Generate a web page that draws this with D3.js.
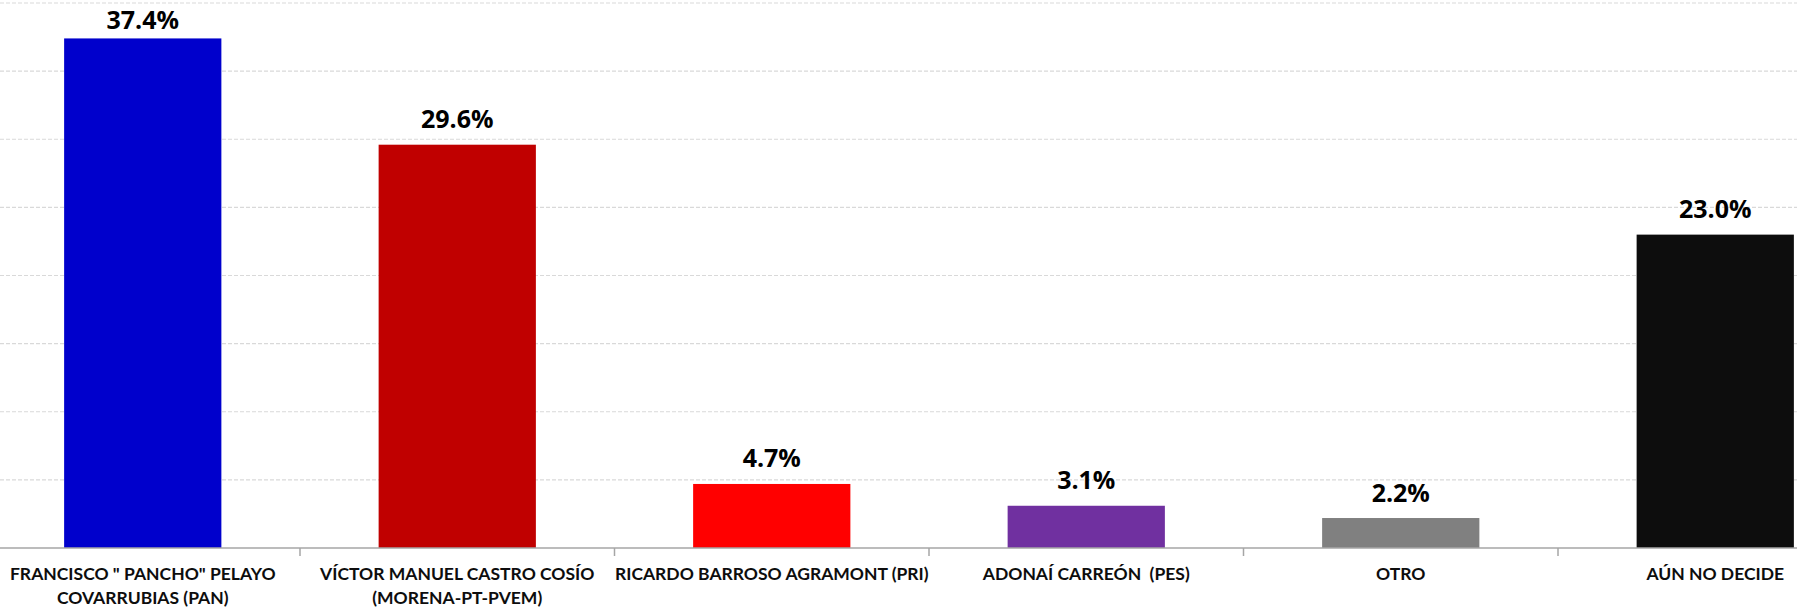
<html>
<head>
<meta charset="utf-8">
<script src="https://d3js.org/d3.v7.min.js"></script>
<style>
  body { margin: 0; background: #fff; }
  text { font-family: Lato, "Open Sans", sans-serif; font-weight: bold; }
  .value { font-family: "Open Sans", Lato, sans-serif; }
</style>
</head>
<body>
<script>
// data
var categories = [
  "FRANCISCO \" PANCHO\" PELAYO\nCOVARRUBIAS (PAN)",
  "VÍCTOR MANUEL CASTRO COSÍO\n(MORENA-PT-PVEM)",
  "RICARDO BARROSO AGRAMONT (PRI)",
  "ADONAÍ CARREÓN  (PES)",
  "OTRO",
  "AÚN NO DECIDE"
];
var values = [37.4, 29.6, 4.7, 3.1, 2.2, 23.0];
var colors = ["#0000cc", "#c00000", "#ff0000", "#7030a0", "#808080", "#0d0d0d"];
var gridTicks = [5, 10, 15, 20, 25, 30, 35, 40];

var W = 1797, H = 608;
var svg = d3.select("body").append("svg")
    .attr("width", W)
    .attr("height", H);

var x = d3.scaleBand()
    .domain(categories)
    .range([-14.5, 1872.5])
    .paddingInner(0.5)
    .paddingOuter(0.25);

var y = d3.scaleLinear()
    .domain([0, 40])
    .range([548, 3]);

var step = x.step();
var gap = (step - x.bandwidth()) / 2;

// gridlines
svg.append("g")
    .selectAll("line")
    .data(gridTicks)
  .enter().append("line")
    .attr("x1", 0)
    .attr("x2", W)
    .attr("y1", function(d) { return y(d); })
    .attr("y2", function(d) { return y(d); })
    .attr("stroke", "#d9d9d9")
    .attr("stroke-width", 1.2)
    .attr("stroke-dasharray", "4,2");

// bars
svg.append("g")
    .selectAll("rect")
    .data(values)
  .enter().append("rect")
    .attr("x", function(d, i) { return x(categories[i]); })
    .attr("width", x.bandwidth())
    .attr("y", function(d) { return y(d); })
    .attr("height", function(d) { return y(0) - y(d); })
    .attr("fill", function(d, i) { return colors[i]; });

// value labels (top one pushed down so it stays inside)
svg.append("g")
    .selectAll("text")
    .data(values)
  .enter().append("text")
    .attr("class", "value")
    .attr("x", function(d, i) { return x(categories[i]) + x.bandwidth() / 2; })
    .attr("y", function(d) { return Math.max(y(d) - 16.5, 28.5); })
    .attr("text-anchor", "middle")
    .attr("font-size", 25)
    .attr("fill", "#000")
    .text(function(d) { return d.toFixed(1) + "%"; });

// x axis line + ticks between categories
svg.append("line")
    .attr("x1", 0).attr("x2", W)
    .attr("y1", y(0)).attr("y2", y(0))
    .attr("stroke", "#a6a6a6")
    .attr("stroke-width", 1.5);

svg.append("g")
    .selectAll("line")
    .data(categories.slice(1))
  .enter().append("line")
    .attr("x1", function(d) { return x(d) - gap; })
    .attr("x2", function(d) { return x(d) - gap; })
    .attr("y1", y(0))
    .attr("y2", y(0) + 8)
    .attr("stroke", "#a6a6a6")
    .attr("stroke-width", 1.5);

// category labels
var labels = svg.append("g")
    .selectAll("text")
    .data(categories)
  .enter().append("text")
    .attr("x", function(d) { return x(d) + x.bandwidth() / 2; })
    .attr("y", 580)
    .attr("text-anchor", "middle")
    .attr("font-size", 17.5)
    .attr("fill", "#0d0d0d");

labels.selectAll("tspan")
    .data(function(d) { return d.split("\n"); })
  .enter().append("tspan")
    .attr("x", function() { return this.parentNode.getAttribute("x"); })
    .attr("dy", function(d, i) { return i ? 24 : 0; })
    .style("white-space", "pre")
    .text(function(d) { return d; });
</script>
</body>
</html>
